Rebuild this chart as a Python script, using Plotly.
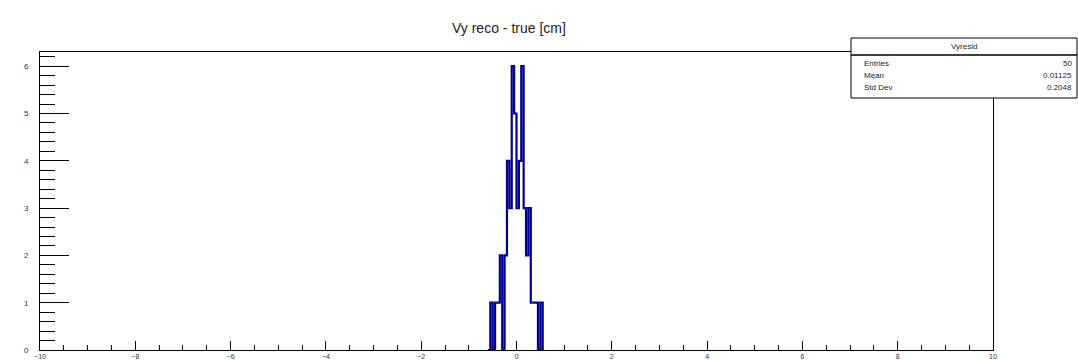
import plotly.graph_objects as go

# ---- data ----
title_text = "Vy reco - true [cm]"
bin_width = 0.05
bin_low_edges = [-0.55, -0.50, -0.45, -0.40, -0.35, -0.30, -0.25, -0.20, -0.15, -0.10, -0.05,
                 0.00, 0.05, 0.10, 0.15, 0.20, 0.25, 0.30, 0.35, 0.40, 0.45, 0.50]
bin_counts = [1, 0, 1, 1, 2, 0, 2, 4, 3, 6, 5,
              3, 4, 6, 3, 2, 3, 1, 1, 1, 0, 1]
stats_name = "Vyresid"
stats_labels = ["Entries", "Mean", "Std Dev"]
stats_values = ["50", "0.01125", "0.2048"]
x_range = [-10, 10]
y_range = [0, 6.3]

# build step outline (ROOT-style histogram)
xs = [bin_low_edges[0] - bin_width] + bin_low_edges + [bin_low_edges[-1] + bin_width]
ys = [0] + bin_counts + [0]

fig = go.Figure()
fig.add_trace(go.Scatter(
    x=xs, y=ys, mode="lines", line=dict(shape="hv", color="#000094", width=2.2),
    hoverinfo="skip", showlegend=False))

# plot area in pixels
W, H = 1078, 360
L, R, T, B = 40, 993, 52, 350
def px(xp):
    return (xp - L) / (R - L)
def py(yp):
    return (B - yp) / (B - T)

fig.update_layout(
    width=W, height=H,
    margin=dict(l=L, r=W - R, t=T, b=H - B, autoexpand=False),
    paper_bgcolor="white", plot_bgcolor="white",
    font=dict(family="Liberation Sans, Arial, sans-serif", color="#222"),
    showlegend=False,
)
fig.update_xaxes(
    range=x_range, showgrid=False, zeroline=False, automargin=False,
    showline=True, linecolor="black", linewidth=1, mirror=True,
    ticks="inside", ticklen=9, tickcolor="black", tickwidth=1,
    tick0=-10, dtick=2, tickfont=dict(size=7, color="#333"),
    ticklabelstandoff=0,
    minor=dict(ticks="inside", dtick=0.5, ticklen=5, tickcolor="black", tickwidth=1),
)
fig.update_yaxes(
    range=y_range, showgrid=False, zeroline=False, automargin=False,
    showline=True, linecolor="black", linewidth=1, mirror=True,
    ticks="inside", ticklen=29, tickcolor="black", tickwidth=1,
    tick0=0, dtick=1, tickfont=dict(size=8, color="#333"),
    ticklabelstandoff=9,
    minor=dict(ticks="inside", dtick=0.2, ticklen=15, tickcolor="black", tickwidth=1),
)

# title
fig.add_annotation(x=px(509), y=py(28), xref="paper", yref="paper", text=title_text,
                   showarrow=False, font=dict(size=14, color="#222"),
                   xanchor="center", yanchor="middle")

# stats box
bx0, bx1, by0, by1, bsep = 851, 1077, 38, 98, 55
fig.add_shape(type="rect", xref="paper", yref="paper",
              x0=px(bx0), x1=px(bx1), y0=py(by1), y1=py(by0),
              line=dict(color="black", width=1), fillcolor="white", layer="above")
fig.add_shape(type="line", xref="paper", yref="paper",
              x0=px(bx0), x1=px(bx1), y0=py(bsep), y1=py(bsep),
              line=dict(color="black", width=1.5), layer="above")
fig.add_annotation(x=px((bx0 + bx1) / 2), y=py((by0 + bsep) / 2), xref="paper", yref="paper",
                   text=stats_name, showarrow=False, font=dict(size=8, color="#222"),
                   xanchor="center", yanchor="middle")
row_y = [63, 75, 87]
for lab, val, ry in zip(stats_labels, stats_values, row_y):
    fig.add_annotation(x=px(862), y=py(ry), xref="paper", yref="paper", text=lab,
                       showarrow=False, font=dict(size=8, color="#222"),
                       xanchor="left", yanchor="middle")
    fig.add_annotation(x=px(1074), y=py(ry), xref="paper", yref="paper", text=val,
                       showarrow=False, font=dict(size=8, color="#222"),
                       xanchor="right", yanchor="middle")

fig.write_html("out.html")
